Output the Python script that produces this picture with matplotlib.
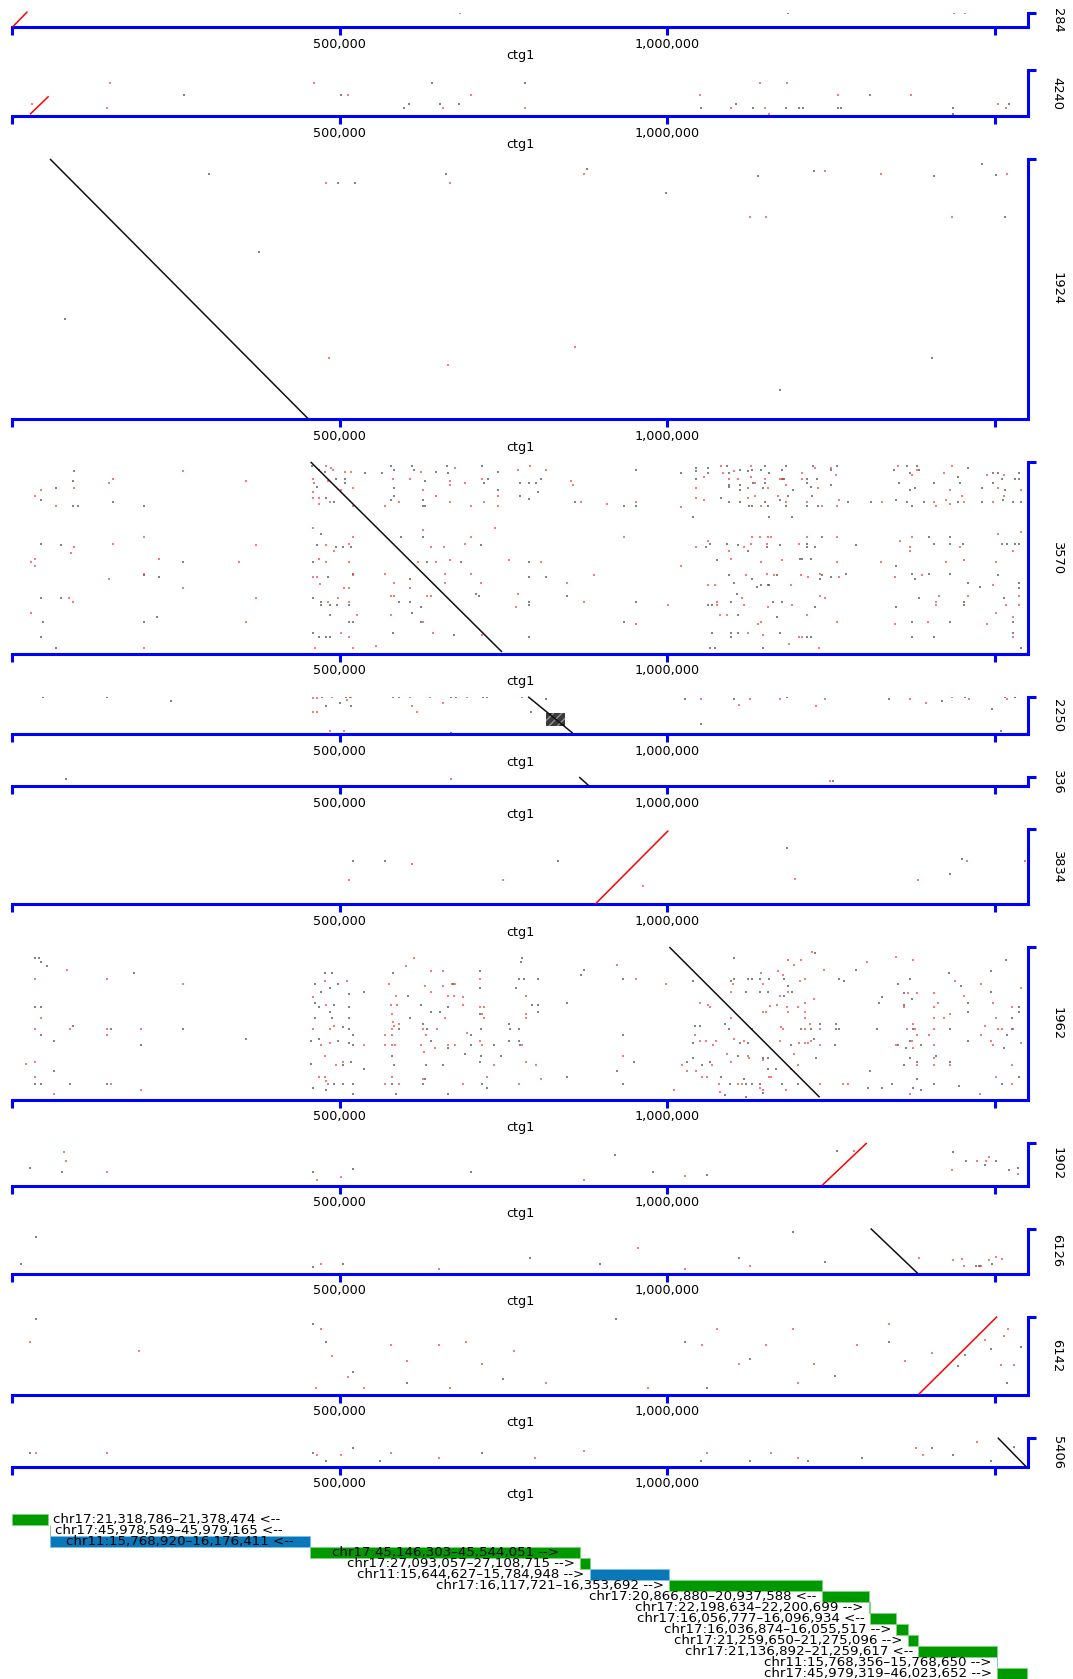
import numpy as np
import matplotlib.pyplot as plt
from matplotlib.patches import Rectangle

# dot plots of each assembled sequence against ctg1 (coordinates in kb)
seq_names = ["284", "4240", "1924", "3570", "2250", "336", "3834", "1962", "1902", "6126", "6142", "5406"]
seq_lengths = [21.5, 70.0, 397.0, 292.5, 57.3, 13.5, 114.5, 233.0, 65.6, 68.7, 119.1, 44.3]
ctg1_length = 1551.0

ctg1_ticks = [0, 500, 1000, 1500]
ctg1_tick_labels = ["", "500,000", "1,000,000", ""]

# main alignment of every sequence (seq_end < seq_start means reverse strand)
hit_ctg_start = [1.0, 27.5, 58.0, 456.0, 788.0, 866.0, 890.7, 1003.6, 1236.6, 1311.0, 1384.0, 1505.0]
hit_ctg_end = [23.5, 56.0, 452.0, 748.0, 856.0, 881.0, 1002.0, 1233.0, 1305.0, 1383.0, 1504.0, 1548.0]
hit_seq_start = [0.3, 2.5, 397.0, 292.5, 57.0, 13.5, 0.0, 232.8, 0.0, 68.7, 0.0, 44.0]
hit_seq_end = [23.5, 30.0, 0.5, 2.5, 1.5, 0.0, 112.0, 3.5, 65.0, 0.0, 119.0, 0.0]

# tandem repeat block in 2250 (ctg1 from-to, seq from-to)
block_2250 = (816.0, 844.0, 11.6, 32.0)

# short repeat hits: (ctg1 kb, seq kb)
red_284 = [(684, 21), (1438, 21), (1455, 21)]
grey_284 = [(1184, 21)]

red_4240 = [(150, 50), (461, 50), (513, 32), (700, 32), (145, 12), (30, 18), (658, 12), (783, 12),
            (1051, 32), (1142, 50), (1183, 50), (1097, 12), (1155, 3), (1261, 32), (1372, 32),
            (1506, 18), (1518, 12), (1150, 12)]
grey_4240 = [(262, 32), (641, 50), (502, 32), (598, 12), (606, 18), (653, 18), (683, 18), (783, 50),
             (1052, 12), (1105, 18), (1131, 12), (1181, 12), (1202, 12), (1208, 12), (1261, 12),
             (1266, 12), (1310, 32), (1436, 12), (1436, 3), (1522, 18)]

red_1924 = [(480, 361), (668, 361), (874, 374), (1126, 309), (1151, 309), (1241, 378), (1326, 374),
            (484, 93), (860, 110), (665, 82), (1519, 374), (1435, 309)]
grey_1924 = [(300, 374), (523, 361), (497, 361), (663, 374), (999, 345), (1407, 371), (1502, 373),
             (377, 255), (81, 152), (1404, 93), (1172, 44), (878, 381), (1224, 379), (1139, 371),
             (1481, 390), (1516, 309)]

red_3570 = [
    (261, 278), (148, 260), (154, 266), (358, 264), (44, 249), (35, 240), (95, 252), (67, 226),
    (201, 178), (95, 163), (90, 154), (154, 168), (373, 166), (35, 145), (29, 140), (35, 134),
    (224, 145), (347, 140), (201, 122), (148, 114), (261, 100), (87, 85), (93, 79), (373, 85),
    (29, 62), (358, 48), (201, 8),
    (479, 286), (487, 283), (490, 280), (509, 277), (517, 277), (459, 266), (461, 260), (483, 263),
    (521, 252), (502, 249), (459, 246), (459, 237), (469, 237), (486, 231), (469, 228), (521, 226),
    (570, 226), (591, 231), (582, 266), (608, 266), (625, 277), (669, 263), (669, 257), (677, 283),
    (692, 260), (718, 266), (627, 249), (648, 240), (669, 231), (700, 226), (721, 231), (742, 240),
    (742, 226), (773, 280), (791, 286), (459, 192), (521, 178), (627, 188), (700, 178), (737, 192),
    (479, 166), (492, 157), (515, 168), (640, 163), (659, 163), (692, 168), (469, 145), (479, 140),
    (515, 140), (620, 140), (648, 140), (669, 143), (759, 143), (661, 122), (459, 117), (466, 117),
    (521, 120), (570, 122), (700, 122), (470, 106), (583, 108), (661, 108), (716, 108), (507, 100),
    (515, 100), (607, 100), (482, 79), (497, 85), (515, 79), (578, 88), (583, 88), (633, 88),
    (640, 88), (770, 71), (526, 59), (578, 59), (627, 48), (643, 31), (718, 28), (502, 31),
    (515, 25), (521, 8), (556, 11), (463, 8), (773, 91),
    (816, 280), (854, 263), (856, 257), (868, 231), (908, 228), (952, 231), (935, 178), (808, 140),
    (888, 120), (848, 108), (874, 79), (1002, 74), (952, 45), (1022, 223), (1022, 134), (1056, 269),
    (1082, 286), (1086, 275), (1102, 278), (1095, 266), (1109, 266), (1129, 286), (1129, 269),
    (1134, 260), (1123, 252), (1149, 266), (1154, 252), (1173, 266), (1177, 266), (1182, 258),
    (1206, 266), (1206, 275), (1226, 284), (1251, 284), (1258, 272), (1231, 252), (1044, 252),
    (1044, 238), (1056, 234), (1123, 238), (1134, 240), (1170, 240), (1143, 226), (1182, 231),
    (1213, 231), (1237, 226), (1260, 226), (1263, 234), (1329, 231), (1353, 286), (1374, 272),
    (1382, 280), (1423, 275), (1435, 286), (1432, 249), (1407, 231), (1411, 226), (1426, 234),
    (1432, 228), (1450, 240), (1454, 231), (1489, 272), (1505, 252), (1515, 272), (1541, 249),
    (1515, 240), (1497, 231), (1044, 163), (1063, 172), (1095, 157), (1118, 163), (1129, 168),
    (1130, 178), (1142, 178), (1154, 178), (1159, 178), (1153, 168), (1213, 178), (1202, 168),
    (1260, 178), (1356, 172), (1371, 163), (1371, 157), (1374, 178), (1447, 163), (1528, 157),
    (1541, 186), (1505, 183), (1097, 145), (1143, 140), (1175, 143), (1260, 140), (1327, 140),
    (1426, 140), (1454, 143), (1502, 140), (1063, 105), (1074, 105), (1121, 120), (1153, 122),
    (1164, 120), (1190, 105), (1205, 120), (1216, 117), (1234, 122), (1263, 117), (1348, 117),
    (1389, 120), (1497, 105), (1077, 79), (1077, 74), (1114, 85), (1118, 74), (1154, 71),
    (1191, 74), (1234, 88), (1241, 85), (1415, 88), (1411, 79), (1411, 74), (1460, 88), (1517, 74),
    (1538, 88), (1538, 74), (1081, 59), (1092, 59), (1213, 59), (1139, 45), (1143, 48), (1260, 48),
    (1348, 45), (1398, 48), (1489, 45), (1502, 62), (1528, 56), (1124, 31), (1147, 28), (1202, 25),
    (1206, 25), (1528, 25), (1187, 14), (1232, 8)]
grey_3570 = [
    (95, 278), (93, 264), (67, 252), (44, 234), (93, 226), (100, 226), (154, 231), (201, 226),
    (44, 168), (75, 166), (261, 140), (201, 120), (224, 117), (44, 85), (75, 85), (222, 56),
    (47, 48), (201, 48), (44, 25), (67, 8),
    (458, 286), (469, 280), (478, 277), (495, 266), (509, 266), (509, 260), (465, 255), (539, 275),
    (565, 275), (578, 286), (583, 281), (611, 286), (614, 280), (630, 263), (648, 277), (664, 286),
    (665, 275), (718, 286), (727, 266), (721, 260), (742, 277), (742, 249), (583, 252), (583, 240),
    (578, 234), (627, 234), (627, 226), (630, 226), (479, 237), (492, 231), (776, 260), (789, 260),
    (776, 240), (789, 236), (471, 183), (465, 166), (495, 163), (505, 163), (517, 163), (594, 178),
    (627, 178), (716, 166), (459, 140), (634, 140), (686, 140), (789, 140), (483, 117), (608, 114),
    (521, 122), (789, 117), (459, 85), (471, 79), (471, 74), (486, 74), (496, 74), (514, 74),
    (591, 79), (608, 79), (625, 71), (611, 62), (708, 91), (713, 88), (789, 79), (789, 74),
    (486, 59), (515, 48), (521, 48), (625, 48), (675, 28), (582, 31), (459, 31), (469, 25),
    (479, 25), (486, 25), (789, 25),
    (800, 261), (808, 266), (803, 246), (860, 231), (935, 226), (952, 226), (952, 280), (1022, 275),
    (1044, 284), (1044, 278), (1063, 284), (1063, 275), (1091, 286), (1095, 275), (1112, 280),
    (1123, 278), (1130, 280), (1143, 280), (1156, 275), (1149, 286), (1182, 286), (1175, 280),
    (1223, 286), (1250, 280), (1260, 286), (1044, 266), (1095, 258), (1095, 255), (1112, 258),
    (1112, 249), (1131, 260), (1146, 252), (1149, 260), (1175, 266), (1179, 266), (1193, 249),
    (1213, 266), (1213, 260), (1220, 255), (1229, 266), (1250, 258), (1083, 238), (1095, 231),
    (1112, 231), (1125, 226), (1130, 226), (1149, 231), (1154, 226), (1173, 234), (1182, 226),
    (1185, 240), (1213, 226), (1222, 240), (1231, 226), (1277, 231), (1312, 231), (1350, 234),
    (1366, 231), (1374, 226), (1392, 231), (1445, 231), (1481, 231), (1513, 234), (1528, 231),
    (1347, 280), (1367, 286), (1371, 275), (1382, 286), (1385, 280), (1354, 260), (1371, 249),
    (1379, 252), (1407, 260), (1445, 269), (1447, 260), (1460, 284), (1481, 252), (1498, 275),
    (1505, 275), (1497, 260), (1512, 266), (1516, 249), (1531, 266), (1538, 266), (1538, 275),
    (1541, 231), (1039, 209), (1156, 209), (1191, 209), (1059, 163), (1066, 168), (1092, 168),
    (1109, 166), (1123, 157), (1153, 163), (1172, 166), (1213, 168), (1213, 163), (1226, 163),
    (1237, 178), (1289, 166), (1400, 178), (1432, 178), (1408, 168), (1432, 168), (1452, 168),
    (1512, 168), (1519, 168), (1531, 168), (1538, 168), (1077, 143), (1203, 145), (1206, 145),
    (1220, 145), (1350, 134), (816, 117), (1095, 120), (1103, 108), (1130, 114), (1138, 102),
    (1143, 105), (1154, 105), (1156, 105), (1168, 120), (1237, 120), (1234, 114), (1251, 117),
    (1273, 122), (1374, 122), (1379, 114), (1400, 122), (1432, 122), (1460, 108), (1478, 102),
    (1505, 120), (1538, 108), (1538, 100), (848, 88), (952, 79), (1069, 74), (1063, 74), (1097, 79),
    (1107, 91), (1162, 79), (1175, 79), (1226, 71), (1350, 71), (1385, 85), (1454, 79), (1454, 74),
    (1515, 85), (1168, 56), (1109, 59), (935, 48), (1374, 48), (1432, 48), (1528, 48), (1069, 31),
    (1097, 31), (1097, 25), (1109, 31), (1173, 31), (1213, 25), (1220, 25), (1374, 25), (1407, 25),
    (1528, 31), (1066, 8), (1074, 8), (1147, 8), (1541, 8)]

red_2250 = [(460, 55), (465, 55), (489, 56), (518, 56), (511, 52), (460, 34), (465, 34), (608, 56),
            (638, 56), (611, 43), (618, 34), (658, 48), (694, 56), (778, 56), (485, 5), (507, 5),
            (1052, 54), (1126, 54), (1172, 54), (1241, 54), (1371, 54), (1396, 47), (1461, 54),
            (1519, 54), (1110, 44), (1228, 43), (1435, 56), (1531, 56)]
grey_2250 = [(474, 56), (480, 43), (501, 48), (510, 56), (516, 56), (518, 43), (582, 56), (591, 56),
             (670, 56), (678, 56), (719, 56), (725, 56), (816, 54), (792, 34), (670, 2), (1028, 54),
             (1102, 54), (1183, 56), (1339, 54), (1420, 51), (1532, 56), (47, 56), (145, 56),
             (243, 51), (1052, 15), (1510, 5), (1455, 56), (1516, 56), (1496, 38)]

red_336 = [(670, 11), (1249, 7)]
grey_336 = [(83, 10), (1254, 7)]

red_3834 = [(515, 36), (611, 61), (750, 36), (1195, 38), (1383, 36), (963, 28), (1458, 65), (1547, 65)]
grey_3834 = [(521, 65), (570, 65), (834, 65), (1183, 85), (1450, 69), (1432, 46)]

red_1962 = [
    (84, 198), (35, 184), (145, 184), (261, 176), (44, 124), (35, 107), (88, 107), (145, 107),
    (145, 98), (197, 107), (35, 58), (21, 55), (35, 35), (151, 23), (197, 15), (64, 9),
    (613, 216), (602, 204), (640, 196), (658, 196), (478, 181), (512, 181), (575, 176), (631, 173),
    (658, 173), (672, 176), (677, 176), (640, 164), (587, 158), (666, 158), (675, 158), (689, 156),
    (689, 144), (578, 144), (588, 144), (459, 156), (480, 144), (715, 184), (785, 158), (715, 141),
    (721, 141), (718, 130), (580, 130), (591, 115), (581, 118), (583, 112), (721, 124), (785, 130),
    (785, 124), (661, 124), (485, 107), (492, 112), (580, 107), (628, 107), (649, 107), (459, 107),
    (570, 98), (580, 98), (632, 98), (694, 101), (485, 87), (538, 84), (570, 84), (580, 84),
    (585, 84), (625, 84), (646, 78), (666, 84), (677, 84), (715, 90), (718, 84), (629, 72),
    (779, 84), (471, 84), (478, 67), (495, 52), (506, 58), (785, 58), (736, 52), (469, 35),
    (478, 35), (480, 29), (580, 35), (725, 35), (628, 32), (570, 23), (591, 23), (689, 23),
    (774, 23), (483, 23),
    (923, 205), (952, 184), (999, 176), (1051, 147), (1062, 144), (1066, 141), (933, 67), (800, 52),
    (808, 32), (1185, 213), (1194, 205), (1205, 213), (1222, 226), (1239, 198), (1144, 193),
    (1169, 196), (1177, 190), (1203, 181), (1211, 184), (1146, 176), (1101, 176), (1098, 164),
    (1172, 158), (1185, 164), (1158, 143), (1168, 144), (1183, 141), (1200, 141), (1211, 147),
    (1225, 153), (1146, 133), (1151, 133), (1211, 133), (1184, 133), (1097, 124), (1211, 124),
    (1174, 110), (1177, 107), (1219, 115), (1211, 107), (1234, 107), (1042, 98), (1051, 90),
    (1060, 90), (1075, 90), (1070, 84), (1103, 93), (1118, 90), (1173, 90), (1202, 87), (1211, 87),
    (1216, 87), (1220, 90), (1234, 84), (1092, 70), (1123, 67), (1125, 64), (1194, 70), (1146, 61),
    (1098, 58), (1068, 52), (1023, 52), (1030, 43), (1044, 43), (1189, 47), (1200, 52), (1061, 35),
    (1054, 35), (1080, 23), (1109, 23), (1115, 23), (1155, 35), (1159, 35), (1142, 17), (1147, 15),
    (1182, 15), (1011, 15), (1081, 12), (1234, 23), (1268, 23), (1277, 23), (1306, 210),
    (1376, 213), (1350, 217), (1368, 162), (1381, 162), (1408, 162), (1414, 147), (1407, 141),
    (1362, 141), (1376, 115), (1366, 107), (1379, 107), (1407, 124), (1423, 124), (1432, 130),
    (1381, 98), (1400, 98), (1374, 90), (1407, 107), (1350, 84), (1407, 84), (1376, 78),
    (1381, 52), (1407, 52), (1432, 52), (1407, 64), (1440, 181), (1453, 158), (1479, 176),
    (1498, 147), (1502, 124), (1486, 113), (1479, 98), (1494, 90), (1497, 84), (1506, 107),
    (1512, 107), (1527, 141), (1528, 107), (1541, 170), (1541, 87), (1527, 52), (1502, 35),
    (1527, 23), (1478, 9), (1371, 9)]
grey_1962 = [
    (35, 216), (41, 216), (44, 210), (53, 204), (186, 193), (35, 141), (44, 141), (93, 112),
    (44, 98), (64, 90), (151, 107), (197, 84), (261, 107), (358, 93), (64, 44), (35, 23), (44, 23),
    (88, 23), (145, 23),
    (478, 193), (489, 193), (463, 176), (497, 176), (485, 170), (472, 164), (515, 161), (538, 164),
    (463, 147), (468, 141), (492, 144), (515, 141), (485, 133), (463, 124), (489, 124), (515, 124),
    (506, 110), (515, 107), (521, 98), (457, 90), (468, 93), (497, 90), (515, 87), (521, 84),
    (457, 55), (506, 52), (517, 58), (538, 47), (582, 193), (605, 158), (625, 144), (666, 141),
    (640, 133), (654, 133), (608, 124), (628, 115), (591, 107), (634, 107), (640, 90), (666, 78),
    (692, 70), (716, 67), (747, 67), (716, 107), (701, 98), (715, 196), (715, 170), (674, 176),
    (774, 184), (781, 184), (770, 170), (715, 130), (759, 115), (760, 107), (774, 107), (774, 90),
    (775, 84), (779, 216), (777, 210), (794, 144), (580, 67), (583, 52), (632, 52), (658, 52),
    (715, 58), (630, 32), (628, 23), (580, 23), (718, 23), (725, 18), (666, 9), (587, 9), (521, 9),
    (459, 18), (480, 15), (492, 23), (506, 23), (521, 23), (736, 84), (759, 90), (701, 84),
    (803, 184), (869, 190), (874, 198), (933, 184), (848, 147), (803, 144), (803, 133), (933, 98),
    (950, 58), (924, 43), (848, 35), (933, 23), (1103, 216), (1226, 224), (1039, 181), (1098, 181),
    (1103, 184), (1123, 184), (1130, 184), (1142, 184), (1156, 184), (1178, 184), (1185, 173),
    (1121, 164), (1142, 164), (1154, 164), (1191, 164), (1179, 158), (1042, 113), (1051, 113),
    (1089, 115), (1095, 107), (1130, 107), (1205, 107), (1220, 107), (1234, 115), (1258, 115),
    (1258, 107), (1263, 107), (1040, 87), (1112, 87), (1123, 87), (1190, 84), (1224, 93),
    (1257, 84), (1108, 67), (1154, 64), (1147, 64), (1228, 64), (1040, 64), (1030, 58), (1054, 52),
    (1066, 58), (1167, 47), (1154, 47), (1083, 35), (1118, 32), (1096, 23), (1121, 23), (1130, 23),
    (1142, 23), (1176, 23), (1200, 23), (1089, 7), (1121, 4), (1147, 10), (1289, 198), (1263, 184),
    (1270, 181), (1353, 176), (1371, 184), (1362, 162), (1362, 144), (1374, 153), (1328, 156),
    (1324, 147), (1321, 107), (1376, 107), (1353, 84), (1365, 78), (1371, 90), (1388, 84),
    (1362, 52), (1371, 64), (1381, 58), (1410, 67), (1432, 58), (1310, 43), (1381, 32), (1408, 23),
    (1446, 21), (1431, 193), (1449, 173), (1460, 147), (1460, 133), (1432, 107), (1460, 90),
    (1495, 196), (1495, 164), (1518, 213), (1527, 124), (1527, 107), (1515, 78), (1538, 141),
    (1538, 133), (1519, 98), (1538, 35), (1511, 23), (1307, 18), (1328, 18), (1343, 23),
    (1376, 18), (1388, 15)]

red_1902 = [(80, 51), (83, 38), (145, 21), (466, 8), (502, 13), (873, 8), (1028, 15), (1285, 52),
            (1473, 38), (1492, 44), (1487, 38), (1536, 18), (1435, 24)]
grey_1902 = [(27, 26), (77, 21), (459, 21), (521, 25), (920, 46), (979, 21), (1061, 16), (1260, 52),
             (1437, 51), (1486, 31), (701, 21), (1456, 38), (1502, 38), (1522, 24), (1536, 27)]

red_6126 = [(472, 15), (652, 7), (1028, 7), (955, 39), (1126, 11), (1384, 23), (1478, 11),
            (1436, 20), (1450, 22), (1453, 12), (1480, 12), (1492, 20), (1502, 25), (1512, 22)]
grey_6126 = [(36, 56), (14, 15), (459, 10), (505, 15), (791, 23), (1110, 23), (1192, 64), (897, 15),
             (1241, 18), (1472, 12), (1476, 12), (1496, 14)]

red_6142 = [(27, 80), (194, 67), (472, 100), (489, 59), (513, 26), (579, 75), (603, 51), (652, 75),
            (693, 80), (717, 46), (766, 67), (816, 18), (1053, 75), (1077, 100), (1110, 47),
            (1151, 75), (1192, 100), (1224, 46), (1290, 75), (1339, 108), (1363, 51), (1404, 64),
            (1486, 83), (464, 10), (538, 10), (669, 10), (971, 10), (1200, 18), (1510, 45),
            (1530, 45), (1515, 90), (1520, 100)]
grey_6142 = [(36, 116), (459, 108), (480, 80), (521, 34), (603, 18), (750, 23), (922, 116),
             (1028, 80), (1126, 54), (1257, 29), (1339, 80), (1445, 43), (1519, 18), (1061, 10),
             (1455, 60), (1495, 70), (1540, 72)]

red_5406 = [(37, 21), (145, 21), (466, 18), (502, 18), (579, 21), (652, 13), (799, 13), (873, 24),
            (1061, 21), (1159, 21), (1200, 13), (1380, 29), (1391, 18), (1473, 38)]
grey_5406 = [(27, 21), (459, 21), (480, 8), (521, 29), (562, 8), (717, 21), (1052, 8), (1126, 8),
             (1216, 8), (1298, 13), (1404, 29), (1437, 18), (1495, 8), (1530, 30)]

red_dots = [red_284, red_4240, red_1924, red_3570, red_2250, red_336,
            red_3834, red_1962, red_1902, red_6126, red_6142, red_5406]
grey_dots = [grey_284, grey_4240, grey_1924, grey_3570, grey_2250, grey_336,
             grey_3834, grey_1962, grey_1902, grey_6126, grey_6142, grey_5406]

# reference regions the ctg1 pieces map to
track_labels = [
    "chr17:21,318,786–21,378,474 <--",
    "chr17:45,978,549–45,979,165 <--",
    "chr11:15,768,920–16,176,411 <--",
    "chr17:45,146,303–45,544,051 -->",
    "chr17:27,093,057–27,108,715 -->",
    "chr11:15,644,627–15,784,948 -->",
    "chr17:16,117,721–16,353,692 -->",
    "chr17:20,866,880–20,937,588 <--",
    "chr17:22,198,634–22,200,699 -->",
    "chr17:16,056,777–16,096,934 <--",
    "chr17:16,036,874–16,055,517 -->",
    "chr17:21,259,650–21,275,096 -->",
    "chr17:21,136,892–21,259,617 <--",
    "chr11:15,768,356–15,768,650 -->",
    "chr17:45,979,319–46,023,652 -->",
]
track_start = [0.0, 57.4, 58.0, 455.0, 867.2, 881.8, 1003.4, 1236.6, 1308.0, 1310.5,
               1349.9, 1367.6, 1383.7, 1503.8, 1504.1]
track_end = [55.3, 58.0, 455.0, 867.2, 881.8, 1003.4, 1236.6, 1308.0, 1310.5, 1349.9,
             1367.6, 1383.7, 1504.1, 1504.1, 1549.8]

# page geometry in pixels
W, H = 1073, 1679
px_per_kb = 0.655
left_px = 12
top_px = 13
gap_px = 43
track_top_px = 1514.0
row_px = 11.0
axis_blue = "#0000ff"
chrom_colors = {"chr17": "#009a00", "chr11": "#0a78b8"}

plt.rcParams["font.family"] = ["DejaVu Sans"]
fig = plt.figure(figsize=(W / 100, H / 100), dpi=100)
width_px = ctg1_length * px_per_kb

y_px = top_px
for i, name in enumerate(seq_names):
    L = seq_lengths[i]
    h_px = L * px_per_kb
    ax = fig.add_axes([left_px / W, 1 - (y_px + h_px) / H, width_px / W, h_px / H])
    y_px += h_px + gap_px

    ax.set_xlim(0, ctg1_length)
    ax.set_ylim(0, L)

    red = np.array(red_dots[i], dtype=float).reshape(-1, 2)
    grey = np.array(grey_dots[i], dtype=float).reshape(-1, 2)
    ax.scatter(grey[:, 0], grey[:, 1], s=2.8, marker="s", color="#505050", alpha=0.7, linewidths=0)
    ax.scatter(red[:, 0], red[:, 1], s=2.8, marker="s", color="#ff2020", alpha=0.6, linewidths=0)

    if name == "2250":
        x0, x1, y0, y1 = block_2250
        ax.add_patch(Rectangle((x0, y0), x1 - x0, y1 - y0, facecolor="#3a3a3a",
                               edgecolor="#909090", hatch="////", linewidth=0, zorder=3))

    fwd = hit_seq_end[i] > hit_seq_start[i]
    ax.plot([hit_ctg_start[i], hit_ctg_end[i]], [hit_seq_start[i], hit_seq_end[i]],
            color="#ff0000" if fwd else "#111111", lw=1.1, solid_capstyle="butt",
            clip_on=False, zorder=4)

    for side in ["top", "left"]:
        ax.spines[side].set_visible(False)
    for side in ["bottom", "right"]:
        ax.spines[side].set_color(axis_blue)
        ax.spines[side].set_linewidth(2.2)
        ax.spines[side].set_capstyle("projecting")

    ax.set_xticks(ctg1_ticks)
    ax.set_xticklabels(ctg1_tick_labels)
    ax.tick_params(axis="x", direction="out", length=6, width=2.2, color=axis_blue,
                   labelsize=9.2, pad=1.8)
    ax.yaxis.tick_right()
    ax.set_yticks([L])
    ax.set_yticklabels([""])
    ax.tick_params(axis="y", direction="out", length=6, width=2.2, color=axis_blue)
    ax.set_xlabel("ctg1", fontsize=9.2, labelpad=-1.5)
    ax.annotate(name, xy=(1, 0.5), xycoords="axes fraction", xytext=(21, 0),
                textcoords="offset points", ha="center", va="center", rotation=-90,
                fontsize=9.4)

# reference track under the dot plots
n_rows = len(track_labels)
tax = fig.add_axes([left_px / W, 1 - (track_top_px + n_rows * row_px) / H,
                    width_px / W, n_rows * row_px / H])
tax.set_xlim(0, ctg1_length)
tax.set_ylim(n_rows - 0.5, -0.5)
tax.axis("off")
for r, label in enumerate(track_labels):
    s, e = track_start[r], track_end[r]
    color = chrom_colors[label.split(":")[0]]
    tax.barh(r, max(e - s, 0.3), left=s, height=1.0, color=color,
             edgecolor="#7fd67f" if color == chrom_colors["chr17"] else "#7fbfe6", linewidth=0.7)
    if e - s > 300:
        tax.text((s + e) / 2, r, label, ha="center", va="center", fontsize=9.6)
    elif (s + e) / 2 < ctg1_length * 0.2:
        tax.text(e + 8, r, label, ha="left", va="center", fontsize=9.6)
    else:
        tax.text(s - 8, r, label, ha="right", va="center", fontsize=9.6)

fig.savefig("out.png", dpi=100)
